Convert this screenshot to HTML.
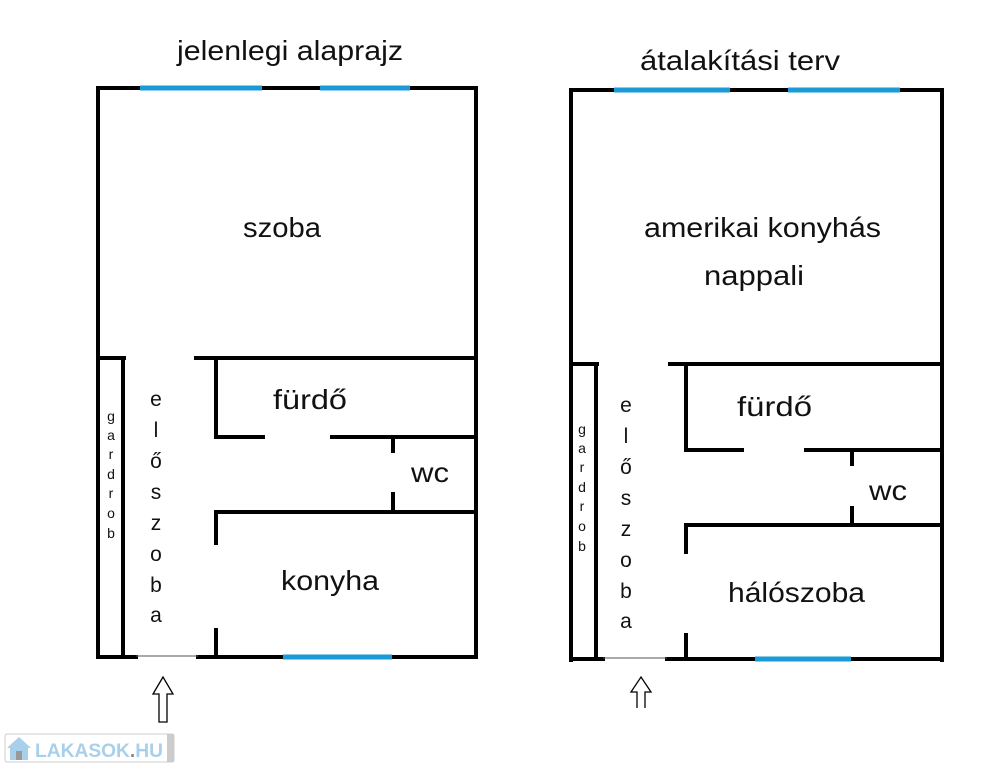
<!DOCTYPE html>
<html><head><meta charset="utf-8"><style>
body{margin:0;background:#fff;width:986px;height:768px;overflow:hidden}
text{font-family:"Liberation Sans",sans-serif;fill:#111}
</style></head><body>
<svg width="986" height="768" viewBox="0 0 986 768" xmlns="http://www.w3.org/2000/svg">
<g stroke="#000" stroke-width="4" fill="none" stroke-linecap="square">
<path d="M98 657 V88 H476 V657"/>
<path d="M98 657 H136 M198 657 H476"/>
<path d="M98 358 H124 M196 358 H476"/>
<path d="M123 358 V657"/>
<path d="M216 358 V437 H263 M332 437 H476"/>
<path d="M393 437 V451 M393 494 V512"/>
<path d="M216 543 V512 H476"/>
<path d="M216 630 V657"/>
<path d="M571 660 V90 H942 V660"/>
<path d="M571 659 H603 M667 659 H942"/>
<path d="M571 364 H597 M670 364 H942"/>
<path d="M596 364 V655"/>
<path d="M686 364 V450 H742 M806 450 H942"/>
<path d="M852 451 V464 M852 508 V524"/>
<path d="M686 552 V525 H942"/>
<path d="M686 635 V659"/>
</g>
<g stroke="#1a9ad6" stroke-width="5">
<path d="M140 88 H262 M320 88 H410 M283 657 H392"/>
<path d="M614 90 H730 M788 90 H900 M755 659 H851"/>
</g>
<g stroke="#555" stroke-width="1">
<path d="M136 656 H198 M603 658 H667"/>
</g>
<path d="M163 677 L153 694 H159 V722 H167 V694 H173 Z" fill="#fff" stroke="#000" stroke-width="1.3"/>
<path d="M637 708 V692 H631 L641 677 L651 692 H645 V708" fill="#fff" stroke="#000" stroke-width="1.3"/>
<g lengthAdjust="spacingAndGlyphs">
<text x="177" y="60" font-size="28" textLength="226" lengthAdjust="spacingAndGlyphs">jelenlegi alaprajz</text>
<text x="640" y="70" font-size="28" textLength="200" lengthAdjust="spacingAndGlyphs">átalakítási terv</text>
<text x="243" y="237" font-size="28" textLength="78" lengthAdjust="spacingAndGlyphs">szoba</text>
<text x="644" y="237" font-size="28" textLength="237" lengthAdjust="spacingAndGlyphs">amerikai konyhás</text>
<text x="704" y="285" font-size="28" textLength="100" lengthAdjust="spacingAndGlyphs">nappali</text>
<text x="273" y="409" font-size="28" textLength="74" lengthAdjust="spacingAndGlyphs">fürdő</text>
<text x="411" y="482" font-size="28" textLength="38" lengthAdjust="spacingAndGlyphs">wc</text>
<text x="281" y="590" font-size="28" textLength="98" lengthAdjust="spacingAndGlyphs">konyha</text>
<text x="737" y="416" font-size="28" textLength="75" lengthAdjust="spacingAndGlyphs">fürdő</text>
<text x="869" y="500" font-size="28" textLength="38" lengthAdjust="spacingAndGlyphs">wc</text>
<text x="728" y="602" font-size="28" textLength="137" lengthAdjust="spacingAndGlyphs">hálószoba</text>
</g>
<g font-size="21" text-anchor="middle">
<text x="156" y="406">e</text><text x="156" y="437">l</text><text x="156" y="468">ő</text><text x="156" y="499">s</text><text x="156" y="530">z</text><text x="156" y="561">o</text><text x="156" y="592">b</text><text x="156" y="622">a</text>
<text x="626" y="412">e</text><text x="626" y="443">l</text><text x="626" y="474">ő</text><text x="626" y="505">s</text><text x="626" y="536">z</text><text x="626" y="567">o</text><text x="626" y="598">b</text><text x="626" y="628">a</text>
</g>
<g font-size="14" text-anchor="middle">
<text x="111" y="421">g</text><text x="111" y="440">a</text><text x="111" y="459">r</text><text x="111" y="479">d</text><text x="111" y="498">r</text><text x="111" y="518">o</text><text x="111" y="538">b</text>
<text x="582" y="434">g</text><text x="582" y="453">a</text><text x="582" y="472">r</text><text x="582" y="492">d</text><text x="582" y="511">r</text><text x="582" y="531">o</text><text x="582" y="551">b</text>
</g>
<rect x="5" y="734" width="169" height="28" fill="#fff" stroke="#ccc" rx="2"/>
<rect x="167" y="734" width="7" height="28" fill="#ccc"/>
<path d="M7 748 L19 737 L31 748 Z" fill="#a8d0ea"/>
<rect x="10" y="747" width="18" height="13" fill="#a8d0ea"/>
<rect x="16" y="751" width="6" height="9" fill="#999"/>
<text x="35" y="757" font-size="19" font-weight="bold" style="fill:#a8d0ea" textLength="128" lengthAdjust="spacingAndGlyphs">LAKASOK<tspan style="fill:#888">.</tspan>HU</text>
</svg>
</body></html>
